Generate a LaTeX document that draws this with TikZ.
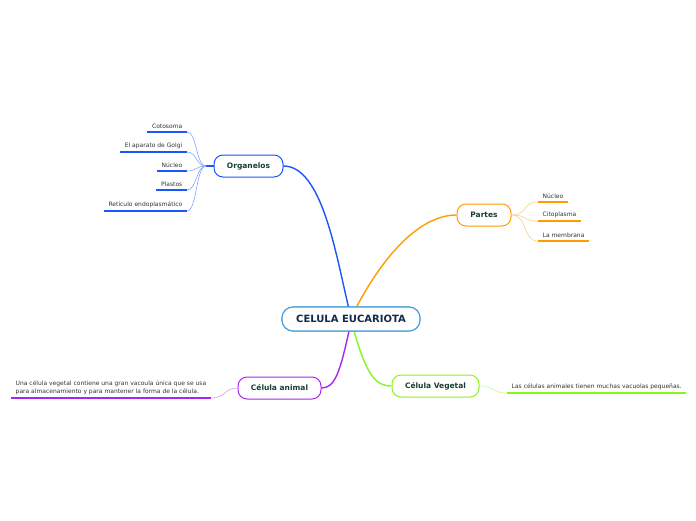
\documentclass[tikz,border=0pt]{standalone}
\usepackage{fontspec}
\setmainfont{DejaVu Sans}
\definecolor{cblue}{HTML}{1A55FF}
\definecolor{lblue}{HTML}{86A4FF}
\definecolor{corange}{HTML}{FF9C00}
\definecolor{lorange}{HTML}{FFCF85}
\definecolor{cpurple}{HTML}{A925F5}
\definecolor{lpurple}{HTML}{D49AF8}
\definecolor{cgreen}{HTML}{88F51C}
\definecolor{lgreen}{HTML}{C6F99A}
\definecolor{cborder}{HTML}{4C9FD9}
\definecolor{navy}{HTML}{15294A}
\definecolor{dgreen}{HTML}{173F33}
\definecolor{ltext}{HTML}{333333}
\tikzset{
  mainbox/.style={draw=cborder, line width=1.1pt, fill=white, rounded corners=11pt,
    minimum width=138pt, minimum height=24pt, font=\fontsize{10}{11}\selectfont\bfseries, text=navy},
  topicbox/.style={draw=#1, line width=1pt, fill=white, rounded corners=9pt,
    minimum height=22pt, font=\fontsize{7.5}{8}\selectfont\bfseries, text=dgreen, inner xsep=0pt},
  leaf/.style={inner xsep=4.5pt, inner ysep=3pt, font=\fontsize{6}{8}\selectfont, text=ltext},
  ul/.style={line width=1.8pt, draw=#1},
  mainconn/.style={line width=1.4pt, draw=#1},
  subconn/.style={line width=0.6pt, draw=#1},
}
\begin{document}
\begin{tikzpicture}[x=1pt,y=-1pt]
\useasboundingbox (0,0) rectangle (696,520);

% central and topic nodes
\node[mainbox] (c) at (351,319) {CELULA EUCARIOTA};
\node[topicbox=cblue, minimum width=69pt] (org) at (248.5,166) {Organelos};
\node[topicbox=corange, minimum width=54pt] (par) at (484,215) {Partes};
\node[topicbox=cpurple, minimum width=83pt] (ani) at (279.5,388) {Célula animal};
\node[topicbox=cgreen, minimum width=87pt] (veg) at (435.5,386) {Célula Vegetal};

% main connectors
\coordinate (cb) at (348.5,307);
\coordinate (co) at (356.5,307);
\coordinate (cp) at (349,331);
\coordinate (cg) at (354,331);
\draw[mainconn=cblue] (cb) .. controls (336,255) and (322,166) .. (org.east);
\draw[mainconn=corange] (co) .. controls (384,255) and (420,215) .. (par.west);
\draw[mainconn=cpurple] (cp) .. controls (340,372) and (335,388) .. (ani.east);
\draw[mainconn=cgreen] (cg) .. controls (366,372) and (374,386) .. (veg.west);
\node[mainbox] at (351,319) {CELULA EUCARIOTA};

% Organelos leaves
\node[leaf, anchor=south east] (o1) at (187,132) {Cotosoma};
\node[leaf, anchor=south east] (o2) at (187,152) {El aparato de Golgi};
\node[leaf, anchor=south east] (o3) at (187,171) {Núcleo};
\node[leaf, anchor=south east] (o4) at (187,190) {Plastos};
\node[leaf, anchor=south east] (o5) at (187,211) {Retículo endoplasmático};
\coordinate (ohub) at (206,166);
\draw[line width=1.8pt, cblue] (ohub) -- (org.west);
\foreach \i/\y in {1/132,2/152,3/171,4/190,5/211} {
  \draw[ul=cblue] (o\i.south west) -- (o\i.south east);
  \draw[subconn=lblue] (ohub) .. controls (196,166) and (197,\y) .. (o\i.south east);
}

% Partes leaves
\node[leaf, anchor=south west] (p1) at (538,202) {Núcleo};
\node[leaf, anchor=south west] (p2) at (538,221) {Citoplasma};
\node[leaf, anchor=south west] (p3) at (538,241) {La membrana};
\foreach \i in {1,2,3} {
  \draw[ul=corange] (p\i.south west) -- (p\i.south east);
}
\draw[subconn=lorange] (par.east) .. controls (528,215) and (522,202) .. (p1.south west);
\draw[subconn=lorange] (par.east) .. controls (528,215) and (522,221) .. (p2.south west);
\draw[subconn=lorange] (par.east) .. controls (528,215) and (522,241) .. (p3.south west);

% Celula animal leaf
\node[leaf, anchor=south west, align=left] (a1) at (11,398)
  {Una célula vegetal contiene una gran vacoula única que se usa\\para almacenamiento y para mantener la forma de la célula.};
\draw[ul=cpurple] (a1.south west) -- (a1.south east);
\draw[subconn=lpurple] (ani.west) .. controls (224,388) and (226,398) .. (a1.south east);

% Celula vegetal leaf
\node[leaf, anchor=south west] (v1) at (507,393) {Las células animales tienen muchas vacuolas pequeñas.};
\draw[ul=cgreen] (v1.south west) -- (v1.south east);
\draw[subconn=lgreen] (veg.east) .. controls (494,386) and (492,393) .. (v1.south west);
\end{tikzpicture}
\end{document}
